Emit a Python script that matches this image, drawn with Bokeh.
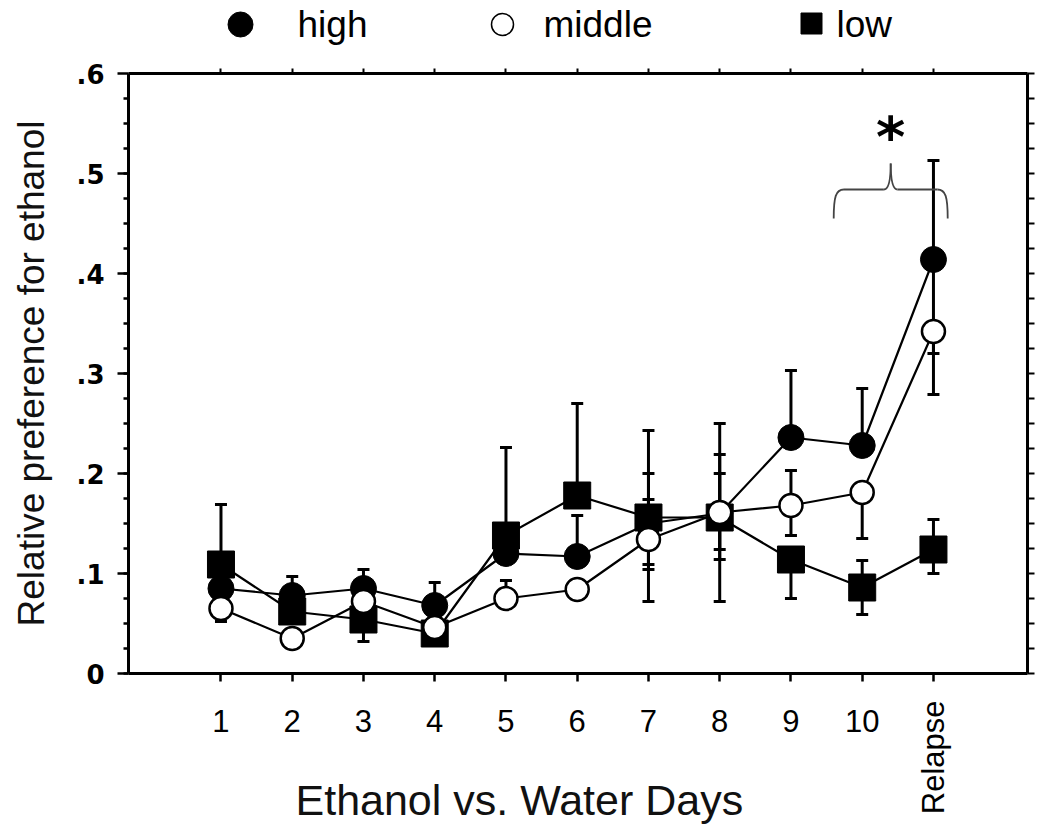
import numpy as np
from bokeh.plotting import figure
from bokeh.models import (Range1d, LinearAxis, FixedTicker, Whisker, TeeHead,
                          ColumnDataSource, Title)
from bokeh.layouts import column
from bokeh.embed import file_html
from bokeh.resources import INLINE
from bokeh.core.properties import value

# ---------------- data ----------------
days = ["1", "2", "3", "4", "5", "6", "7", "8", "9", "10", "Relapse"]
day_x = [1, 2, 3, 4, 5, 6, 7, 8, 9, 10, 11]

high = [0.085, 0.078, 0.085, 0.068, 0.120, 0.117, 0.150, 0.160, 0.236, 0.228, 0.414]
high_up = [0.0, 0.019, 0.019, 0.023, 0.0, 0.041, 0.093, 0.090, 0.067, 0.057, 0.099]
high_dn = [0.0, 0.0, 0.0, 0.0, 0.0, 0.0, 0.046, 0.046, 0.0, 0.0, 0.094]

middle = [0.065, 0.035, 0.072, 0.046, 0.075, 0.084, 0.134, 0.161, 0.168, 0.181, 0.342]
middle_up = [0.0, 0.0, 0.0, 0.0, 0.018, 0.0, 0.066, 0.058, 0.035, 0.0, 0.0]
middle_dn = [0.013, 0.0, 0.0, 0.0, 0.0, 0.0, 0.062, 0.037, 0.030, 0.046, 0.063]

low = [0.109, 0.062, 0.054, 0.040, 0.138, 0.178, 0.156, 0.156, 0.114, 0.086, 0.124]
low_up = [0.060, 0.0, 0.0, 0.0, 0.088, 0.092, 0.018, 0.044, 0.0, 0.027, 0.030]
low_dn = [0.0, 0.0, 0.022, 0.0, 0.0, 0.0, 0.047, 0.084, 0.039, 0.027, 0.024]

y_ticks = [0.0, 0.1, 0.2, 0.3, 0.4, 0.5, 0.6]
y_tick_labels = ["0", ".1", ".2", ".3", ".4", ".5", ".6"]

legend_names = ["high", "middle", "low"]

# significance brace spanning day 10 .. relapse
brace_x0, brace_x1, brace_mid = 9.6, 11.2, 10.4
brace_y_end, brace_y, brace_y_tip = 0.455, 0.484, 0.510
star_y = 0.537

FONT = value("Liberation Sans")

# ---------------- main plot ----------------
p = figure(frame_width=899, frame_height=600,
           x_range=Range1d(-0.298, 12.32), y_range=Range1d(0, 0.6),
           output_backend="svg", toolbar_location=None,
           min_border_left=128, min_border_right=23,
           min_border_top=17, min_border_bottom=154)
p.grid.visible = False
p.outline_line_color = None
p.background_fill_color = "white"
p.border_fill_color = "white"

# bottom axis: day numbers
xa = p.xaxis[0]
xa.ticker = FixedTicker(ticks=day_x)
ov = {xi: lab for xi, lab in zip(day_x, days)}
ov[day_x[-1]] = ""
xa.major_label_overrides = ov
xa.axis_line_width = 3
xa.axis_line_color = "black"
xa.major_tick_line_width = 2.5
xa.major_tick_out = 8
xa.major_tick_in = 0
xa.minor_tick_out = 0
xa.minor_tick_in = 0
xa.major_label_standoff = 28
xa.major_label_text_font = "Liberation Sans"
xa.major_label_text_font_size = "31px"
xa.major_label_text_color = "black"

# second bottom axis: vertical "Relapse" label (reads bottom to top)
rel = LinearAxis(ticker=FixedTicker(ticks=[day_x[-1]]),
                 major_label_overrides={day_x[-1]: days[-1]})
rel.axis_line_color = None
rel.major_tick_line_color = None
rel.minor_tick_line_color = None
rel.major_tick_out = 0
rel.major_tick_in = 0
rel.minor_tick_out = 0
rel.minor_tick_in = 0
rel.major_label_orientation = np.pi / 2
rel.major_label_standoff = -34
rel.major_label_text_font = "Liberation Sans"
rel.major_label_text_font_size = "31px"
rel.major_label_text_color = "black"
p.add_layout(rel, "below")

# x axis title
p.add_layout(Title(text="Ethanol vs. Water Days", align="left", offset=167,
                   vertical_align="top", standoff=-84,
                   text_font="Liberation Sans",
                   text_font_size="43px", text_font_style="normal",
                   text_color="#111111"), "below")

# left axis
ya = p.yaxis[0]
minor = [i * 0.025 for i in range(25)]
ya.ticker = FixedTicker(ticks=y_ticks, minor_ticks=minor)
ya.major_label_overrides = {t: l for t, l in zip(y_ticks, y_tick_labels)}
ya.axis_line_width = 3
ya.axis_line_color = "black"
ya.major_tick_line_width = 2.5
ya.major_tick_out = 11
ya.major_tick_in = 0
ya.minor_tick_line_width = 2.5
ya.minor_tick_out = 5
ya.minor_tick_in = 0
ya.major_label_standoff = 13
ya.major_label_text_font = "DejaVu Sans"
ya.major_label_text_font_style = "bold"
ya.major_label_text_font_size = "26px"
ya.major_label_text_color = "black"
ya.axis_label = "Relative preference for ethanol"
ya.axis_label_text_font = "Liberation Sans"
ya.axis_label_text_font_style = "normal"
ya.axis_label_text_font_size = "37px"
ya.axis_label_text_color = "#111111"
ya.axis_label_standoff = 22

# top axis (ticks only)
ta = LinearAxis(ticker=FixedTicker(ticks=day_x))
ta.axis_line_width = 3
ta.major_tick_line_width = 2
ta.major_tick_out = 5
ta.major_tick_in = 0
ta.minor_tick_out = 0
ta.major_label_text_font_size = "1px"
ta.major_label_text_color = None
ta.major_label_standoff = 0
p.add_layout(ta, "above")

# right axis (ticks only)
ra = LinearAxis(ticker=FixedTicker(ticks=minor + [0.6]))
ra.axis_line_width = 3
ra.major_tick_line_width = 2
ra.major_tick_out = 7
ra.major_tick_in = 0
ra.minor_tick_out = 0
ra.major_label_text_font_size = "1px"
ra.major_label_text_color = None
ra.major_label_standoff = 0
p.add_layout(ra, "right")

# error bars
def add_errors(vals, ups, dns):
    ux = [xi for xi, u in zip(day_x, ups) if u > 0]
    ulo = [v for v, u in zip(vals, ups) if u > 0]
    uhi = [v + u for v, u in zip(vals, ups) if u > 0]
    dx = [xi for xi, d in zip(day_x, dns) if d > 0]
    dhi = [v for v, d in zip(vals, dns) if d > 0]
    dlo = [v - d for v, d in zip(vals, dns) if d > 0]
    if ux:
        s = ColumnDataSource(dict(x=ux, lo=ulo, hi=uhi))
        p.add_layout(Whisker(source=s, base="x", lower="lo", upper="hi",
                             dimension="height", line_width=3, line_color="black",
                             upper_head=TeeHead(size=12, line_width=3, line_color="black"),
                             lower_head=None, level="underlay"))
    if dx:
        s = ColumnDataSource(dict(x=dx, lo=dlo, hi=dhi))
        p.add_layout(Whisker(source=s, base="x", lower="lo", upper="hi",
                             dimension="height", line_width=3, line_color="black",
                             lower_head=TeeHead(size=12, line_width=3, line_color="black"),
                             upper_head=None, level="underlay"))

add_errors(high, high_up, high_dn)
add_errors(low, low_up, low_dn)
add_errors(middle, middle_up, middle_dn)

# connecting lines
for series in (high, low, middle):
    p.line(day_x, series, line_color="black", line_width=2.2)

# markers
p.scatter(day_x, high, marker="circle", size=26, fill_color="black", line_color="black")
p.scatter(day_x, low, marker="square", size=27, fill_color="black", line_color="black")
p.scatter(day_x, middle, marker="circle", size=23, fill_color="white",
          line_color="black", line_width=2.5)

# brace
bw = (brace_x1 - brace_x0) * 0.09
bt = (brace_x1 - brace_x0) * 0.06
p.bezier(x0=[brace_x0, brace_mid - bt, brace_x1, brace_mid + bt],
         y0=[brace_y_end, brace_y, brace_y_end, brace_y],
         x1=[brace_x0 + bw, brace_mid, brace_x1 - bw, brace_mid],
         y1=[brace_y, brace_y_tip, brace_y, brace_y_tip],
         cx0=[brace_x0, brace_mid - bt * 0.3, brace_x1, brace_mid + bt * 0.3],
         cy0=[brace_y_end + (brace_y - brace_y_end) * 0.75, brace_y,
              brace_y_end + (brace_y - brace_y_end) * 0.75, brace_y],
         cx1=[brace_x0 + bw * 0.2, brace_mid, brace_x1 - bw * 0.2, brace_mid],
         cy1=[brace_y, brace_y + (brace_y_tip - brace_y) * 0.35,
              brace_y, brace_y + (brace_y_tip - brace_y) * 0.35],
         line_color="#444444", line_width=1.8)
p.segment(x0=[brace_x0 + bw, brace_mid + bt], y0=[brace_y, brace_y],
          x1=[brace_mid - bt, brace_x1 - bw], y1=[brace_y, brace_y],
          line_color="#444444", line_width=1.8)
p.text(x=[brace_mid], y=[star_y], text=["*"], text_font=value("DejaVu Sans"),
       text_font_style="bold", text_font_size="56px", text_align="center",
       text_baseline="alphabetic", text_color="black")

# ---------------- legend row ----------------
leg = figure(frame_width=899, frame_height=56,
             x_range=Range1d(128, 1027), y_range=Range1d(56, 0),
             output_backend="svg", toolbar_location=None,
             x_axis_type=None, y_axis_type=None,
             min_border_left=128, min_border_right=23,
             min_border_top=0, min_border_bottom=0)
leg.grid.visible = False
leg.outline_line_color = None
leg.scatter([240], [24], marker="circle", size=25, fill_color="black", line_color="black")
leg.scatter([502], [24], marker="circle", size=22, fill_color="white", line_color="black",
            line_width=1.5)
leg.scatter([811], [23], marker="square", size=21, fill_color="black", line_color="black")
leg.text(x=[297, 543, 836], y=[24, 24, 24], text=legend_names, text_font=FONT,
         text_font_size="37px", text_baseline="middle", text_align="left",
         text_color="black")

layout = column(leg, p, spacing=0)
open("out.html", "w").write(file_html(layout, INLINE))
